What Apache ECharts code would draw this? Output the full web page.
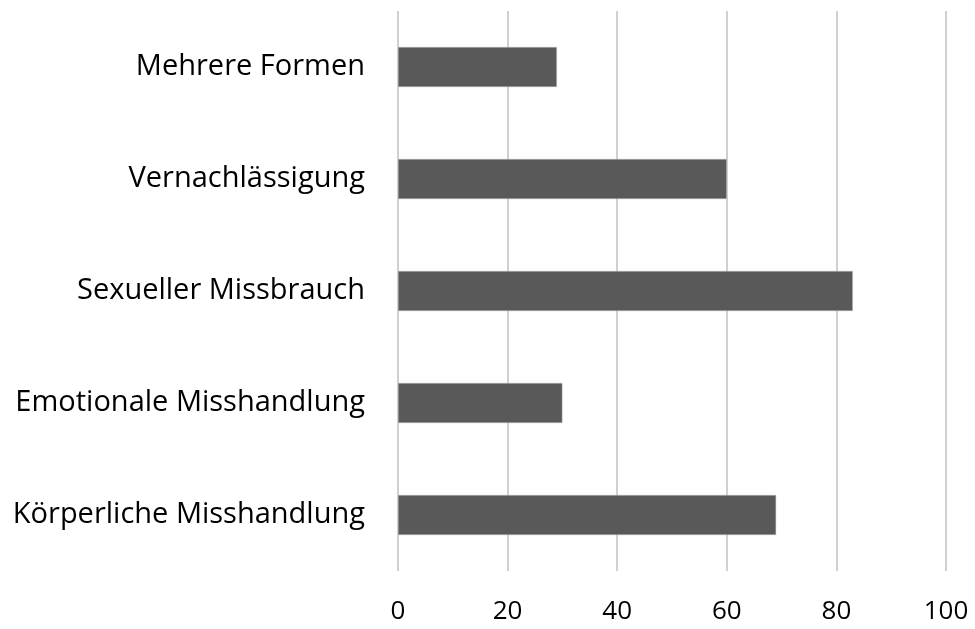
<!DOCTYPE html>
<html><head><meta charset="utf-8">
<script src="https://cdn.jsdelivr.net/npm/echarts@6/dist/echarts.min.js"></script>
<style>html,body{margin:0;padding:0;background:#fff}#c{width:975px;height:629px}</style>
</head><body><div id="c"></div>
<script>
const categories = ["Körperliche Misshandlung","Emotionale Misshandlung","Sexueller Missbrauch","Vernachlässigung","Mehrere Formen"];
const values = [69, 30, 83, 60, 29];
const xMin = 0, xMax = 100, xStep = 20;

const chart = echarts.init(document.getElementById('c'), null, {renderer:'canvas'});
const font = "'Open Sans', sans-serif";
chart.setOption({
  animation:false,
  grid:{left:398, right:29, top:11, bottom:58, containLabel:false},
  xAxis:{type:'value', min:xMin, max:xMax, interval:xStep,
    axisLine:{show:false}, axisTick:{show:false},
    splitLine:{show:true, lineStyle:{color:'#d0d0d0', width:2}},
    axisLabel:{color:'#000', fontSize:26, fontFamily:font, margin:28}},
  yAxis:{type:'category', data:categories,
    axisLine:{show:false}, axisTick:{show:false},
    axisLabel:{color:'#000', fontSize:29, fontFamily:font, margin:33}},
  series:[{type:'bar', data:values, barWidth:40,
    itemStyle:{color:'#595959', borderColor:'#bcbcbc', borderWidth:0.5}}]
});
</script></body></html>
